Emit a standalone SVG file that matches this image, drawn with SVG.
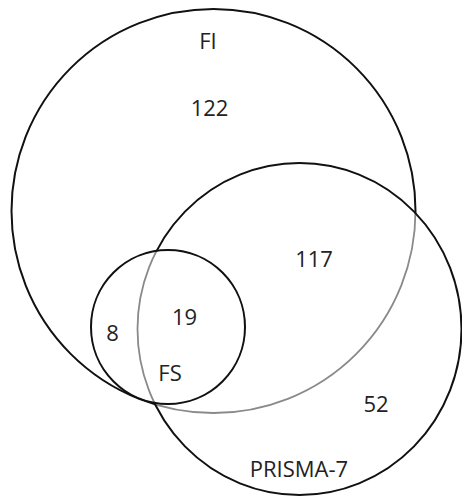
<svg xmlns="http://www.w3.org/2000/svg" width="462" height="502" viewBox="0 0 462 502">
<style>
.ln{fill:none;stroke:#111;stroke-width:2}
.gr{fill:none;stroke:#8a8a8a;stroke-width:1.8}
.t{font-family:"Open Sans","Liberation Sans",sans-serif;font-size:22px;fill:#222;text-anchor:middle}
</style>
<defs>
<clipPath id="inP"><ellipse cx="299.5" cy="329" rx="162" ry="166"/></clipPath>
<clipPath id="outP"><path clip-rule="evenodd" d="M-10 -10H472V512H-10Z M137.5 329a162 166 0 1 0 324 0a162 166 0 1 0 -324 0Z"/></clipPath>
<clipPath id="inS"><circle cx="168" cy="327" r="77"/></clipPath>
<clipPath id="outS"><path clip-rule="evenodd" d="M-10 -10H472V512H-10Z M91 327a77 77 0 1 0 154 0a77 77 0 1 0 -154 0Z"/></clipPath>
</defs>
<rect width="462" height="502" fill="#fff"/>
<g id="FI">
<circle class="gr" cx="213.5" cy="211" r="202" clip-path="url(#inP)"/>
<circle class="ln" cx="213.5" cy="211" r="202" clip-path="url(#outP)"/>
<text class="t" x="208" y="49">FI</text>
<text class="t" x="209.5" y="116">122</text>
</g>
<g id="PRISMA-7">
<ellipse class="gr" cx="299.5" cy="329" rx="162" ry="166" clip-path="url(#inS)"/>
<ellipse class="ln" cx="299.5" cy="329" rx="162" ry="166" clip-path="url(#outS)"/>
<text class="t" x="314" y="267">117</text>
<text class="t" x="376" y="412">52</text>
<text class="t" x="299" y="477">PRISMA-7</text>
</g>
<g id="FS">
<circle class="ln" cx="168" cy="327" r="77"/>
<text class="t" x="184.5" y="325">19</text>
<text class="t" x="112.5" y="341">8</text>
<text class="t" x="170" y="381">FS</text>
</g>
</svg>
